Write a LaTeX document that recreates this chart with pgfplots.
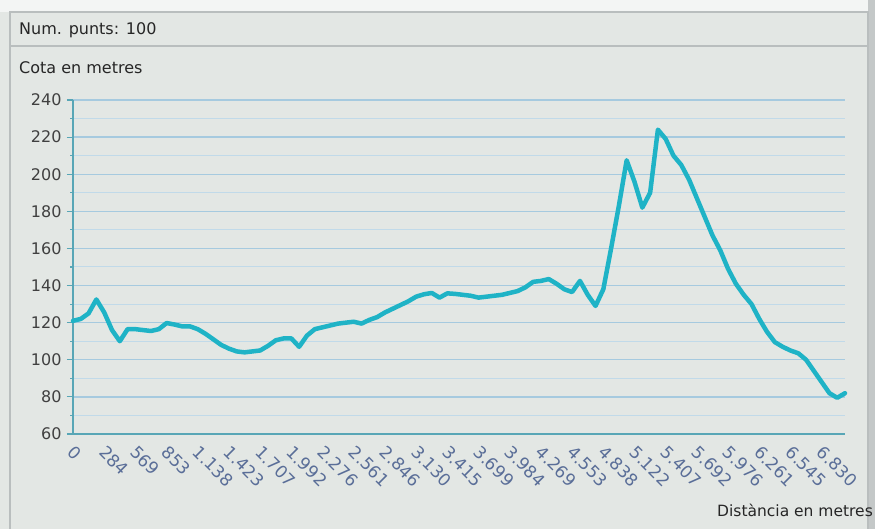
\documentclass[border=0pt]{standalone}
\usepackage{fontspec}
\setmainfont{DejaVu Sans}
\usepackage{pgfplots}
\pgfplotsset{compat=1.18}
\usepackage{pgfplotstable}

\definecolor{fons}{HTML}{E3E7E4}
\definecolor{dalt}{HTML}{F3F5F4}
\definecolor{vora}{HTML}{B9BEBE}
\definecolor{fosc}{HTML}{C4C8C8}
\definecolor{linia}{HTML}{1FB3C6}
\definecolor{graella}{HTML}{A6CADF}
\definecolor{eix}{HTML}{58A6B6}
\definecolor{etiq}{HTML}{5A6E98}

% distancia (m) i cota (m), 100 punts
\pgfplotstableread{
d z
0 121
71 122
142 125
213 132.5
285 125.5
356 116
427 110
498 116.5
569 116.5
640 116
711 115.5
783 116.5
854 119.8
925 119
996 118
1067 118
1138 116.5
1209 114
1281 111
1352 108
1423 106
1494 104.5
1565 104
1636 104.5
1707 105
1779 107.5
1850 110.5
1921 111.5
1992 111.5
2063 107
2134 113
2206 116.5
2277 117.5
2348 118.5
2419 119.5
2490 120
2561 120.5
2632 119.5
2704 121.5
2775 123
2846 125.5
2917 127.5
2988 129.5
3059 131.5
3130 134
3202 135.3
3273 136
3344 133.5
3415 135.8
3486 135.5
3557 135
3628 134.5
3700 133.5
3771 134
3842 134.5
3913 135
3984 136
4055 137
4126 139
4198 142
4269 142.5
4340 143.5
4411 141
4482 138
4553 136.5
4625 142.5
4696 135
4767 129
4838 138
4909 160
4980 183
5051 207.5
5122 196
5194 182
5265 190
5336 224
5407 219
5478 210
5549 205
5621 197
5692 187
5763 177
5834 167
5905 159
5976 149
6047 141
6119 135
6190 130
6261 122
6332 115
6403 109.5
6474 107
6545 105
6617 103.5
6688 100
6759 94
6830 88
6901 82
6972 79.5
7043 82
}\perfil

\begin{document}
\begin{tikzpicture}[x=1pt,y=1pt]
\fontsize{16}{19}\selectfont
\begin{scope}
\clip (0,0) rectangle (875,529);
\fill[fons] (0,0) rectangle (875,529);
\fill[dalt] (0,517) rectangle (875,529);
\fill[fosc] (868,0) rectangle (875,529);
\draw[vora, line width=1.2pt] (10,0) -- (10,517) -- (868,517) -- (868,0);
\draw[vora, line width=1.2pt] (10,483) -- (868,483);
\node[anchor=west, inner sep=0pt, text=black!85] at (19,499) {Num. punts: 100};
\node[anchor=west, inner sep=0pt, text=black!85] at (19,461) {Cota en metres};
\node[anchor=west, inner sep=0pt, text=black!85, font=\fontsize{15.5}{18}\selectfont] at (717,19) {Distància en metres};
\end{scope}
\begin{axis}[
    at={(73pt,95pt)}, anchor=south west,
    scale only axis, width=772pt, height=334pt,
    xmin=0, xmax=7043, ymin=60, ymax=240,
    axis lines*=left,
    axis line style={eix, line width=1.6pt, -},
    ytick distance=20, minor y tick num=1,
    tick align=outside,
    major tick length=6pt, minor tick length=3pt,
    ytick style={eix, line width=1.2pt},
    xtick style={draw=none},
    ymajorgrids, yminorgrids,
    major grid style={graella, line width=1.4pt},
    minor grid style={graella!70, line width=1pt},
    xtick={0,284.58,569.17,853.75,1138.33,1422.92,1707.5,1992.08,2276.67,2561.25,2845.83,3130.42,3415,3699.58,3984.17,4268.75,4553.33,4837.92,5122.5,5407.08,5691.67,5976.25,6260.83,6545.42,6830},
    xticklabels={0,284,569,853,1.138,1.423,1.707,1.992,2.276,2.561,2.846,3.130,3.415,3.699,3.984,4.269,4.553,4.838,5.122,5.407,5.692,5.976,6.261,6.545,6.830},
    xticklabel style={rotate=-45, anchor=north west, text=etiq, font=\fontsize{17}{20}\selectfont, inner sep=1pt, xshift=4pt},
    yticklabel style={text=black!75, font=\fontsize{16}{19}\selectfont},
    /pgf/number format/assume math mode=true,
    clip=false,
]
\addplot[linia, line width=4.5pt, line join=round, line cap=round] table[x=d, y=z] {\perfil};
\end{axis}
\pgfresetboundingbox
\path[use as bounding box] (0,0) rectangle (875,529);
\end{tikzpicture}
\end{document}
